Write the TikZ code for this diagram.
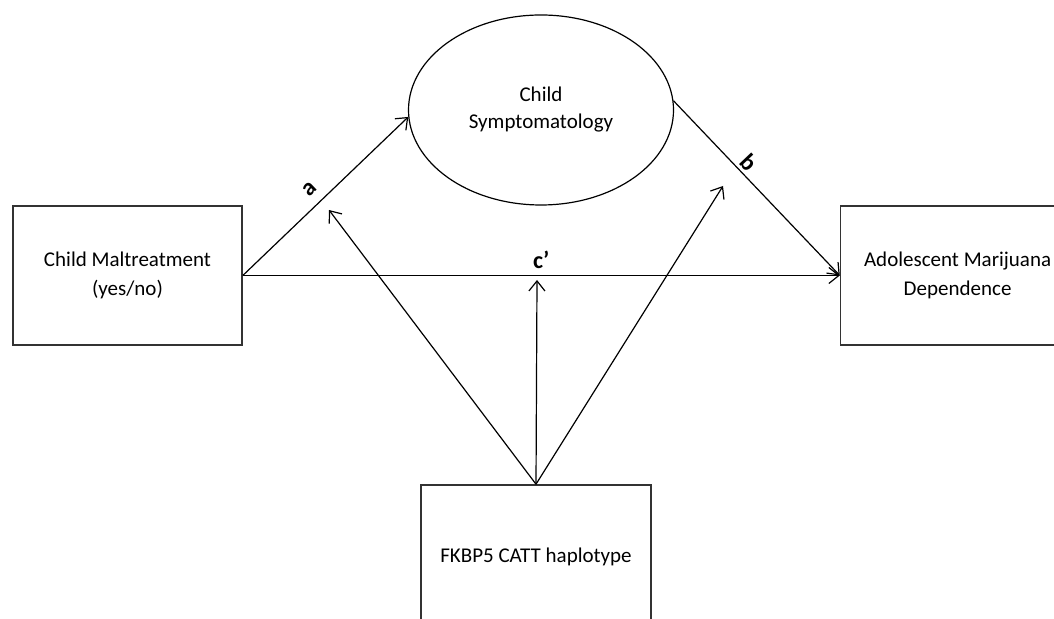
\documentclass[tikz,border=0pt]{standalone}
\usepackage{fontspec}
\setmainfont{Carlito}
\usetikzlibrary{arrows.meta, positioning, shapes.geometric}

\begin{document}
\begin{tikzpicture}[x=1pt, y=1pt,
    box/.style = {draw=black!80, line width=1.6pt, align=center, minimum width=229pt, minimum height=139pt, font=\fontsize{21}{29}\selectfont},
    latent/.style = {draw, ellipse, line width=1.2pt, minimum width=265pt, minimum height=190pt, align=center, font=\fontsize{21}{27}\selectfont},
    arr/.style = {-{Straight Barb[length=10pt,width=16pt]}, line width=1.2pt},
    lab/.style = {font=\fontsize{24}{24}\selectfont\bfseries}]
            \useasboundingbox (0,0) rectangle (1054,618);

            \node[box] (CM) at (127.5,342.5) {Child Maltreatment\\(yes/no)};
            \node[box, minimum width=234pt] (AMD) [right=597pt of CM] {Adolescent Marijuana\\Dependence};
            \node[latent] (CS) at (541,508) {Child\\Symptomatology};
            \node[box, minimum width=230pt, minimum height=144pt] (FK) at (536,61) {FKBP5 CATT haplotype};

            % moderation targets
            \coordinate (ma) at (329,408);
            \coordinate (mb) at (723,432);
            \coordinate (mc) at (537,338);

            \path[arr] (CM.east) edge node[lab, sloped, above=6pt, pos=0.47] {a} (CS.183);
            \path[arr] (CS.4) edge node[lab, sloped, above, pos=0.40] {b} (AMD.west);
            \path[arr] (CM.east) edge node[lab, above=3pt] {c’} (AMD.west);

            \path[arr] (FK.north) edge (ma);
            \path[arr] (FK.north) edge (mb);
            \path[arr] (FK.north) edge (mc);
        \end{tikzpicture}
\end{document}
